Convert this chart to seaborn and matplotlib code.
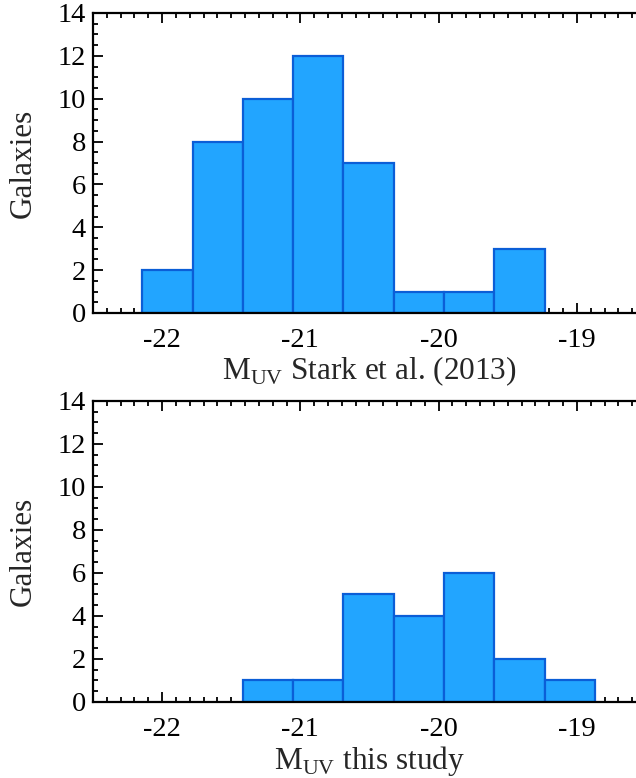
import numpy as np
import pandas as pd
import matplotlib
matplotlib.use("Agg")
import matplotlib.pyplot as plt
from matplotlib.ticker import MultipleLocator
import seaborn as sns

# Histogram bins (M_UV)
stark_edges = [-22.144, -21.780, -21.416, -21.052, -20.688, -20.324, -19.960, -19.596, -19.232]
stark_counts = [2, 8, 10, 12, 7, 1, 1, 3]

this_edges = [-21.416, -21.052, -20.688, -20.324, -19.960, -19.596, -19.232, -18.868]
this_counts = [1, 1, 5, 4, 6, 2, 1]

x_ticks = [-22, -21, -20, -19]
y_ticks = [0, 2, 4, 6, 8, 10, 12, 14]

sns.set_style("ticks")
plt.rcParams['font.family'] = ['Liberation Serif', 'DejaVu Serif']
plt.rcParams['mathtext.fontset'] = 'custom'
plt.rcParams['mathtext.rm'] = 'Liberation Serif'

FILL = '#22a5ff'
EDGE = '#0b5ed7'
TICK_FS = 20.5
LABEL_FS = 22.5

fig = plt.figure(figsize=(6.36, 7.78), dpi=100)
ax_top = fig.add_axes([0.1462, 0.5977, 0.8695, 0.3856])
ax_bot = fig.add_axes([0.1462, 0.0977, 0.8695, 0.3869])


def draw_hist(ax, edges, counts, xlabel):
    e = np.array(edges)
    df = pd.DataFrame({'mag': (e[:-1] + e[1:]) / 2, 'n': counts})
    sns.histplot(data=df, x='mag', weights='n', bins=list(edges), ax=ax,
                 color=FILL, edgecolor=EDGE, linewidth=1.6, alpha=1.0)
    ax.set_xlim(-22.5, -18.5)
    ax.set_ylim(0, 14)
    ax.set_xticks(x_ticks)
    ax.set_xticklabels([str(t) for t in x_ticks])
    ax.set_yticks(y_ticks)
    ax.xaxis.set_minor_locator(MultipleLocator(0.1))
    ax.yaxis.set_minor_locator(MultipleLocator(0.5))
    ax.tick_params(which='both', direction='in', top=True, right=True,
                   width=1.3, colors='black', labelsize=TICK_FS)
    ax.tick_params(which='major', length=7)
    ax.tick_params(which='minor', length=3.5)
    ax.tick_params(axis='x', which='major', pad=11)
    ax.tick_params(axis='y', which='major', pad=5)
    for s in ax.spines.values():
        s.set_linewidth(1.6)
        s.set_color('black')
    ax.set_xlabel(xlabel, fontsize=LABEL_FS, labelpad=1)
    ax.set_ylabel('Galaxies', fontsize=LABEL_FS, labelpad=14)


draw_hist(ax_top, stark_edges, stark_counts, r'M$_{\rm UV}$ Stark et al. (2013)')
draw_hist(ax_bot, this_edges, this_counts, r'M$_{\rm UV}$ this study')

fig.savefig('out.png', dpi=100)
